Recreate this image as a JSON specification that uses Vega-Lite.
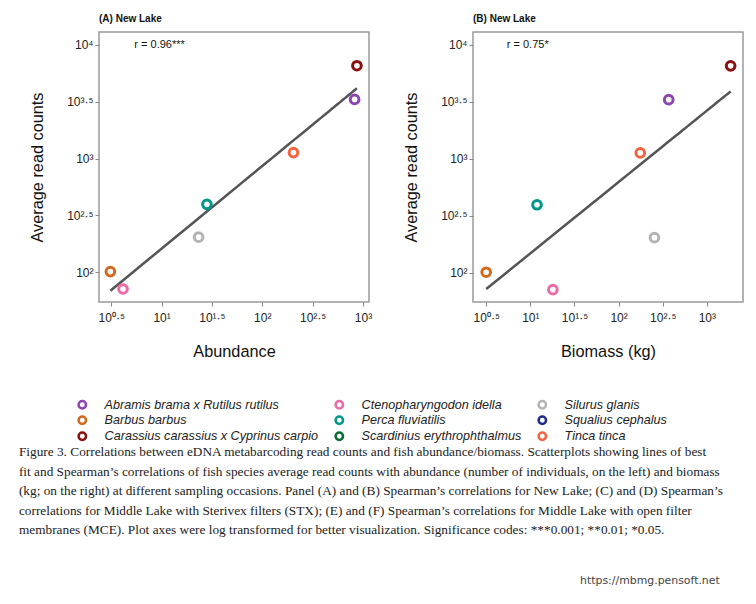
{
  "$schema": "https://vega.github.io/schema/vega-lite/v6.json",
  "padding": {"left": 18, "top": 13, "right": 5, "bottom": 5},
  "background": "white",
  "datasets": {
    "fish": [
      {"species": "Abramis brama x Rutilus rutilus", "abundance": 826, "biomass": 370, "reads": 3311},
      {"species": "Barbus barbus", "abundance": 3.1, "biomass": 3.16, "reads": 101},
      {"species": "Carassius carassius x Cyprinus carpio", "abundance": 871, "biomass": 1862, "reads": 6561},
      {"species": "Ctenopharyngodon idella", "abundance": 4.14, "biomass": 18, "reads": 71},
      {"species": "Perca fluviatilis", "abundance": 28.2, "biomass": 11.9, "reads": 395},
      {"species": "Silurus glanis", "abundance": 23.3, "biomass": 255, "reads": 203},
      {"species": "Tinca tinca", "abundance": 204, "biomass": 176, "reads": 1127}
    ]
  },
  "title": {
    "text": "https://mbmg.pensoft.net",
    "orient": "bottom",
    "anchor": "end",
    "font": "DejaVu Sans",
    "fontSize": 10.9,
    "fontWeight": "normal",
    "color": "#444",
    "offset": 39,
    "dx": -24
  },
  "vconcat": [
    {
      "title": {
        "text": [
          "Figure 3. Correlations between eDNA metabarcoding read counts and fish abundance/biomass. Scatterplots showing lines of best",
          "fit and Spearman’s correlations of fish species average read counts with abundance (number of individuals, on the left) and biomass",
          "(kg; on the right) at different sampling occasions. Panel (A) and (B) Spearman’s correlations for New Lake; (C) and (D) Spearman’s",
          "correlations for Middle Lake with Sterivex filters (STX); (E) and (F) Spearman’s correlations for Middle Lake with open filter",
          "membranes (MCE). Plot axes were log transformed for better visualization. Significance codes: ***0.001; **0.01; *0.05."
        ],
        "orient": "bottom",
        "anchor": "start",
        "font": "Liberation Serif",
        "fontSize": 13.3,
        "fontWeight": "normal",
        "color": "#222",
        "lineHeight": 19.5,
        "offset": 85,
        "dx": -10
      },
      "spacing": 29,
      "hconcat": [
        {
          "width": 270,
          "height": 270,
          "title": {"text": "(A) New Lake", "anchor": "start", "frame": "group", "font": "Liberation Sans", "fontSize": 10, "fontWeight": "bold", "color": "#111", "offset": 8},
          "layer": [
            {
              "data": {"name": "fish"},
              "transform": [{"regression": "reads", "on": "abundance", "method": "pow"}],
              "mark": {"type": "line", "color": "#555", "strokeWidth": 2.5},
              "encoding": {
                "x": {"field": "abundance", "type": "quantitative", "scale": {"type": "log", "domain": [2.39, 1148], "nice": false, "zero": false},
                  "axis": {"title": "Abundance", "values": [3.1623, 10, 31.623, 100, 316.23, 1000], "labelExpr": "'10' + ['⁰','⁰·⁵','¹','¹·⁵','²','²·⁵','³','³·⁵','⁴'][round(2*log(datum.value)/LN10)]", "labelPadding": 6, "titlePadding": 20, "labelFlush": false}},
                "y": {"field": "reads", "type": "quantitative", "scale": {"type": "log", "domain": [54.5, 13000], "nice": false, "zero": false},
                  "axis": {"title": "Average read counts", "values": [100, 316.23, 1000, 3162.3, 10000], "labelExpr": "'10' + ['⁰','⁰·⁵','¹','¹·⁵','²','²·⁵','³','³·⁵','⁴'][round(2*log(datum.value)/LN10)]", "labelPadding": 2, "titlePadding": 21}}
              }
            },
            {
              "data": {"name": "fish"},
              "mark": {"type": "point", "shape": "circle", "filled": false, "strokeWidth": 3, "size": 75, "opacity": 1},
              "encoding": {
                "x": {"field": "abundance", "type": "quantitative"},
                "y": {"field": "reads", "type": "quantitative"},
                "color": {
                  "field": "species", "type": "nominal",
                  "scale": {
                    "domain": ["Abramis brama x Rutilus rutilus", "Barbus barbus", "Carassius carassius x Cyprinus carpio", "Ctenopharyngodon idella", "Perca fluviatilis", "Scardinius erythrophthalmus", "Silurus glanis", "Squalius cephalus", "Tinca tinca"],
                    "range": ["#8E44AD", "#D2691E", "#8B1010", "#EE6AA7", "#009688", "#0B6B32", "#B3B3B3", "#232B8C", "#F4633F"]
                  },
                  "legend": {
                    "title": null, "orient": "none", "legendX": -23, "legendY": 366, "columns": 3,
                    "symbolType": "circle", "symbolSize": 55, "symbolStrokeWidth": 2.5,
                    "labelFont": "Liberation Sans", "labelFontStyle": "italic", "labelFontSize": 12.6, "labelColor": "#222",
                    "labelOffset": 16, "rowPadding": -5, "columnPadding": 11, "labelLimit": 400
                  }
                }
              }
            },
            {
              "data": {"values": [{"label": "r = 0.96***", "abundance": 5.36, "reads": 10000}]},
              "mark": {"type": "text", "align": "left", "baseline": "middle", "font": "Liberation Sans", "fontSize": 11, "color": "#111"},
              "encoding": {
                "x": {"field": "abundance", "type": "quantitative"},
                "y": {"field": "reads", "type": "quantitative"},
                "text": {"field": "label"}
              }
            }
          ]
        },
        {
          "width": 270,
          "height": 270,
          "title": {"text": "(B) New Lake", "anchor": "start", "frame": "group", "font": "Liberation Sans", "fontSize": 10, "fontWeight": "bold", "color": "#111", "offset": 8},
          "layer": [
            {
              "data": {"name": "fish"},
              "transform": [{"regression": "reads", "on": "biomass", "method": "pow"}],
              "mark": {"type": "line", "color": "#555", "strokeWidth": 2.5},
              "encoding": {
                "x": {"field": "biomass", "type": "quantitative", "scale": {"type": "log", "domain": [2.24, 2570], "nice": false, "zero": false},
                  "axis": {"title": "Biomass (kg)", "values": [3.1623, 10, 31.623, 100, 316.23, 1000], "labelExpr": "'10' + ['⁰','⁰·⁵','¹','¹·⁵','²','²·⁵','³','³·⁵','⁴'][round(2*log(datum.value)/LN10)]", "labelPadding": 6, "titlePadding": 20, "labelFlush": false}},
                "y": {"field": "reads", "type": "quantitative", "scale": {"type": "log", "domain": [55.3, 13000], "nice": false, "zero": false},
                  "axis": {"title": "Average read counts", "values": [100, 316.23, 1000, 3162.3, 10000], "labelExpr": "'10' + ['⁰','⁰·⁵','¹','¹·⁵','²','²·⁵','³','³·⁵','⁴'][round(2*log(datum.value)/LN10)]", "labelPadding": 2, "titlePadding": 21}}
              }
            },
            {
              "data": {"name": "fish"},
              "mark": {"type": "point", "shape": "circle", "filled": false, "strokeWidth": 3, "size": 75, "opacity": 1},
              "encoding": {
                "x": {"field": "biomass", "type": "quantitative"},
                "y": {"field": "reads", "type": "quantitative"},
                "color": {
                  "field": "species", "type": "nominal",
                  "scale": {
                    "domain": ["Abramis brama x Rutilus rutilus", "Barbus barbus", "Carassius carassius x Cyprinus carpio", "Ctenopharyngodon idella", "Perca fluviatilis", "Scardinius erythrophthalmus", "Silurus glanis", "Squalius cephalus", "Tinca tinca"],
                    "range": ["#8E44AD", "#D2691E", "#8B1010", "#EE6AA7", "#009688", "#0B6B32", "#B3B3B3", "#232B8C", "#F4633F"]
                  }
                }
              }
            },
            {
              "data": {"values": [{"label": "r = 0.75*", "biomass": 5.41, "reads": 10000}]},
              "mark": {"type": "text", "align": "left", "baseline": "middle", "font": "Liberation Sans", "fontSize": 11, "color": "#111"},
              "encoding": {
                "x": {"field": "biomass", "type": "quantitative"},
                "y": {"field": "reads", "type": "quantitative"},
                "text": {"field": "label"}
              }
            }
          ]
        }
      ]
    }
  ],
  "config": {
    "font": "Liberation Sans",
    "view": {"stroke": "#9a9a9a", "strokeWidth": 1.5},
    "axis": {
      "domain": false, "grid": false, "tickColor": "#888", "tickSize": 4, "tickWidth": 1,
      "labelFont": "Liberation Sans", "labelFontSize": 12, "labelColor": "#222",
      "titleFont": "Liberation Sans", "titleFontSize": 16.3, "titleFontWeight": "normal", "titleColor": "#111"
    }
  }
}
